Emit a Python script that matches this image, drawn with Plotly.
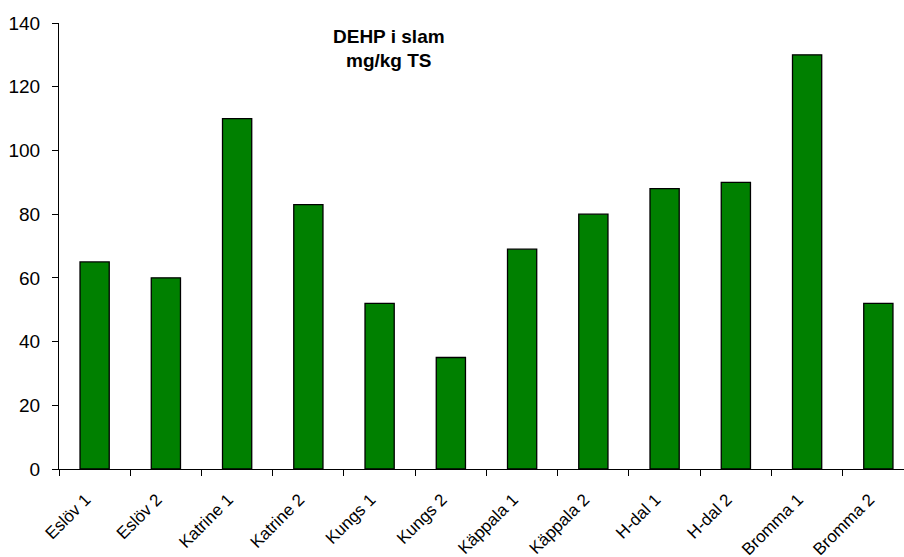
import plotly.graph_objects as go

categories = ["Eslöv 1", "Eslöv 2", "Katrine 1", "Katrine 2", "Kungs 1", "Kungs 2",
              "Käppala 1", "Käppala 2", "H-dal 1", "H-dal 2", "Bromma 1", "Bromma 2"]
dehp_mg_per_kg_ts = [65, 60, 110, 83, 52, 35, 69, 80, 88, 90, 130, 52]
y_ticks = [0, 20, 40, 60, 80, 100, 120, 140]
title_lines = ["DEHP i slam", "mg/kg TS"]

font = "Liberation Sans, Arial, sans-serif"
margin_l, margin_t, margin_b = 59, 23, 88
plot_w = 904 - margin_l
plot_h = 557 - margin_t - margin_b

fig = go.Figure(go.Bar(
    x=categories,
    y=dehp_mg_per_kg_ts,
    marker=dict(color="#008000", line=dict(color="#000000", width=1.3)),
))

# two-line bold title inside the plot area, positioned in pixels
title_px = [(389, 37), (389, 60)]
annotations = []
for text, (px, py) in zip(title_lines, title_px):
    annotations.append(dict(
        text=f"<b>{text}</b>",
        x=(px - margin_l) / plot_w, xref="paper",
        y=(557 - margin_b - py) / plot_h, yref="paper",
        xanchor="center", yanchor="middle",
        showarrow=False, font=dict(size=19, family=font, color="black"),
    ))

fig.update_layout(
    width=904, height=557,
    margin=dict(l=margin_l, r=0, t=margin_t, b=margin_b),
    plot_bgcolor="white", paper_bgcolor="white",
    bargap=0.59,
    showlegend=False,
    font=dict(family=font, color="black", size=17),
    annotations=annotations,
)

fig.update_xaxes(
    range=[-0.5, 11.36], automargin=False,
    showline=True, linecolor="black", linewidth=1,
    ticks="outside", tickson="boundaries", ticklen=6, tickcolor="black",
    tickangle=-45, tickfont=dict(size=17),
    ticklabelstandoff=13, ticklabelshift=-9,
    showgrid=False, zeroline=False,
)
fig.update_yaxes(
    range=[0, 140], tickvals=y_ticks, automargin=False,
    showline=True, linecolor="black", linewidth=1,
    ticks="outside", ticklen=6, tickcolor="black",
    tickfont=dict(size=19), ticklabelstandoff=8,
    showgrid=False, zeroline=False,
)

fig.write_html("out.html")
